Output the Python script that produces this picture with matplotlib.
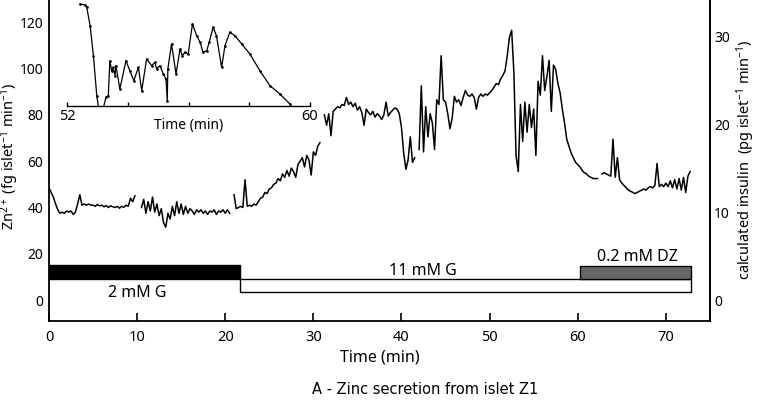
import numpy as np
import matplotlib
matplotlib.use('Agg')
import matplotlib.pyplot as plt

plt.rcParams['font.family'] = ['Noto Sans', 'DejaVu Sans']
plt.rcParams['mathtext.fontset'] = 'custom'
plt.rcParams['mathtext.rm'] = 'Noto Sans'
plt.rcParams['mathtext.it'] = 'Noto Sans:italic'
plt.rcParams['mathtext.default'] = 'regular'

nan = np.nan

# ---- main trace: Zn2+ secretion (fg islet-1 min-1), sampled every 0.25 min ----
sample_step_min = 0.25
zn_fg = [
    48, 46, 44, 41, 38.5, 37, 37.5, 37, 38, 37.5, 38, 36.5, 37.5, 41, 45, 40.5, 41, 40.5, 41, 40.5,
    40.5, 40, 40.8, 40.2, 40.5, 39.8, 40.3, 39.5, 40.2, 39.8, 39.5, 40, 39.2, 40, 39.6, 40.5, 40, 43.5, 42, 44.5,
    nan, nan, 39.5, 43, 37, 42, 38, 44, 37.5, 41, 36, 39, 33, 31, 37, 34.5, 40, 36, 42, 37,
    41, 36.5, 40, 37, 39, 38, 36.5, 38.5, 37.5, 38.5, 37, 38, 36.5, 38, 37.5, 38.5, 36.5, 38, 37.5, 38.5,
    37, 38.5, 37, nan, 45, 39, 39.5, 40, 39.5, 51.5, 40, 40.5, 40, 41, 40.5, 42, 43.5, 44, 46, 45.5,
    47.5, 48, 49.5, 50, 52, 51, 54, 52.5, 55.5, 53, 56.5, 55, 52.5, 58, 59.5, 61, 57, 62, 60, 53.5,
    63.5, 62, 66, 67.5, nan, 79.5, 75, 80, 70.5, 81, 82, 83, 82.5, 84, 83.5, 87, 84, 85, 83, 84.5,
    81.5, 83, 80.5, 75, 82, 80.5, 79.5, 81, 78.5, 80, 79, 77.5, 79.5, 85, 79, 80.5, 81.5, 82.5, 82, 80,
    74, 63, 56, 60, 70, 59, 61, nan, 64.5, 92, 63.5, 83, 70, 80, 76, 64.5, 86, 84, 105, 86,
    85, 80, 73.5, 78, 87.5, 85, 86, 83.5, 87, 90, 88, 87.5, 88.5, 87, 82, 87, 88.5, 87.5, 88.5, 88,
    89, 90, 91.5, 93, 92.5, 95, 96.5, 98.5, 105, 113, 116, 98, 62, 55, 84, 68, 85, 72, 84, 74,
    82, 62, 94, 88, 105, 90, 96, 103, 81, 101, 99, 93, 89, 82, 76, 69, 66, 63, 61, 59,
    58, 57, 55.5, 54.5, 54, 53, 52.5, 52, 52, 52, nan, 54, 54.5, 54, 53.5, 53, 69, 52.5, 61, 51.5,
    50, 49, 48, 47, 46.5, 46, 45.5, 46, 46.5, 47, 47.5, 47, 48, 48.5, 48, 49, 58.5, 48.5, 49.5, 48.5,
    50, 48.5, 51, 48, 51.5, 47.5, 52, 47, 52.5, 46, 53, 55,
]
time_min = np.arange(len(zn_fg)) * sample_step_min

# ---- inset trace (52-60 min detail) ----
inset_time = [52.43, 52.59, 52.65, 52.76, 52.87, 52.98, 53.06, 53.19, 53.28, 53.36, 53.41, 53.47,
              53.52, 53.58, 53.61, 53.74, 53.94, 54.07, 54.2, 54.35, 54.46, 54.62, 54.79, 54.89,
              54.95, 55.06, 55.17, 55.26, 55.3, 55.32, 55.44, 55.59, 55.72, 55.8, 55.88, 55.99,
              56.13, 56.27, 56.38, 56.48, 56.6, 56.68, 56.81, 56.92, 57.09, 57.2, 57.36, 57.53,
              57.75, 58.02, 58.35, 58.68, 59.01, 59.34, 59.45]
inset_zn = [122.9, 122.3, 120.9, 109.5, 90.9, 66.2, 56, 58, 65.2, 66.2, 87.8, 81.6,
            83.7, 78.6, 84.7, 70.3, 87.8, 81.6, 75.5, 83.7, 69.3, 88.9, 84.7, 86.8,
            83, 84.7, 79.6, 76.5, 63.1, 82.7, 98.2, 79.6, 95.1, 90.9, 93, 92,
            110.5, 103.3, 99.2, 93, 94, 99.2, 108.5, 103.3, 83.7, 97.1, 105.4, 103.3,
            98.2, 92, 81.6, 72.4, 67.2, 61, 58]

# ---- treatment bars ----
bar_labels = ['2 mM G', '11 mM G', '0.2 mM DZ']
bar_start = [0.0, 21.7, 60.3]
bar_end = [21.7, 72.8, 72.8]
bar_low = [8.5, 3.0, 8.5]
bar_high = [14.5, 8.5, 14.3]
bar_colors = ['black', 'white', '#666666']
label_x = [10.0, 42.4, 66.8]
label_y = [3.0, 12.5, 18.5]

x_ticks = [0, 10, 20, 30, 40, 50, 60, 70]
left_ticks = [0, 20, 40, 60, 80, 100, 120]
right_ticks = [0, 10, 20, 30]
zn_per_insulin = 3.785

fig = plt.figure(figsize=(7.58, 4.14), dpi=100)
ax = fig.add_axes([0.0646, 0.2222, 0.8720, 0.7778])
ax.plot(time_min, zn_fg, color='black', lw=1.1)

order = [1, 0, 2]
ax.bar([bar_start[i] for i in order],
       [bar_high[i] - bar_low[i] for i in order],
       width=[bar_end[i] - bar_start[i] for i in order],
       bottom=[bar_low[i] for i in order],
       align='edge', color=[bar_colors[i] for i in order],
       edgecolor='black', linewidth=1.0, zorder=3)
for lab, lx, ly in zip(bar_labels, label_x, label_y):
    ax.text(lx, ly, lab, ha='center', va='center', fontsize=11.5)

ax.set_xlim(0, 75)
ax.set_ylim(-9.5, 129.5)
ax.set_xticks(x_ticks)
ax.set_yticks(left_ticks)
ax.tick_params(axis='x', direction='in', length=6, width=1.2, pad=6, labelsize=10.5)
ax.tick_params(axis='y', length=0, pad=4, labelsize=10)
ax.spines['top'].set_visible(False)
for s in ['left', 'bottom', 'right']:
    ax.spines[s].set_linewidth(1.3)
ax.set_xlabel('Time (min)', fontsize=11.5, labelpad=3)

ax2 = ax.twinx()
ax2.set_ylim(-9.5 / zn_per_insulin, 129.5 / zn_per_insulin)
ax2.set_yticks(right_ticks)
ax2.tick_params(axis='y', length=0, pad=3, labelsize=10)
for s in ['top', 'left', 'bottom']:
    ax2.spines[s].set_visible(False)
ax2.spines['right'].set_linewidth(1.3)

fig.text(10 / 758, 1 - 156 / 414, 'Zn$^{2+}$ (fg islet$^{-1}$ min$^{-1}$)',
         rotation=90, ha='center', va='center', fontsize=10.5)
fig.text(746 / 758, 1 - 160 / 414, 'calculated insulin  (pg islet$^{-1}$ min$^{-1}$)',
         rotation=90, ha='center', va='center', fontsize=10.5)

# ---- inset ----
axi = fig.add_axes([0.0884, 0.7423, 0.3206, 0.2577])
axi.patch.set_visible(False)
axi.plot(inset_time, inset_zn, color='black', lw=0.9, marker='.', ms=1.8)
axi.set_xlim(52, 60)
axi.set_ylim(60, 126)
axi.set_xticks([52, 54, 56, 58, 60])
axi.set_xticklabels(['52', '', '', '', '60'])
axi.set_yticks([])
for s in ['top', 'left', 'right']:
    axi.spines[s].set_visible(False)
axi.spines['bottom'].set_linewidth(1.0)
axi.tick_params(axis='x', direction='in', length=3, width=1.0, pad=2, labelsize=10.5)
axi.set_xlabel('Time (min)', fontsize=10)
axi.xaxis.set_label_coords(0.5, -0.11)

fig.text(425 / 758, 1 - 390 / 414, 'A - Zinc secretion from islet Z1',
         ha='center', va='center', fontsize=10.5, family=['DejaVu Sans'])

fig.savefig('out.png', dpi=100)
